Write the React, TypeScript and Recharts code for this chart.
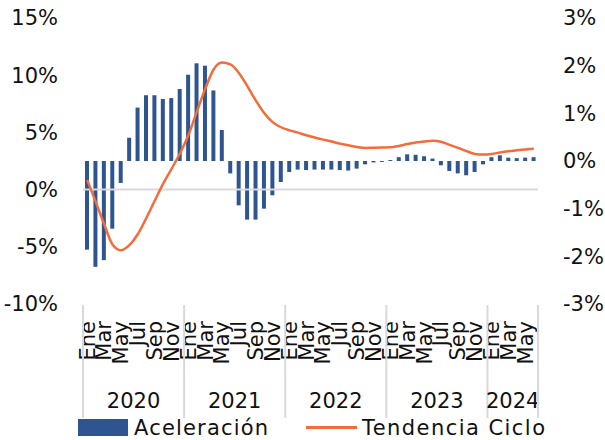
import { ComposedChart, Bar, Line, XAxis, YAxis, ReferenceLine } from 'recharts';

const YEARS = ['2020', '2021', '2022', '2023', '2024'];
const MONTHS = ['Ene', 'Feb', 'Mar', 'Abr', 'May', 'Jun', 'Jul', 'Ago', 'Sep', 'Oct', 'Nov', 'Dic'];
const MONTHS_PER_YEAR = [12, 12, 12, 12, 6];

// Aceleración (right axis, %)
const ACELERACION = [
  -1.86, -2.22, -2.08, -1.42, -0.46, 0.49, 1.12, 1.38, 1.38, 1.3, 1.32, 1.51,
  1.81, 2.05, 2.0, 1.48, 0.65, -0.26, -0.93, -1.23, -1.23, -1.0, -0.72, -0.44,
  -0.23, -0.18, -0.19, -0.18, -0.18, -0.18, -0.19, -0.2, -0.16, -0.07, -0.03, -0.02,
  0.02, 0.08, 0.14, 0.13, 0.1, 0.05, -0.09, -0.21, -0.26, -0.3, -0.23, -0.07,
  0.08, 0.12, 0.07, 0.06, 0.07, 0.08,
];

// Tendencia Ciclo (left axis, %)
const TENDENCIA = [
  0.85, -1.05, -3.0, -4.8, -5.3, -4.85, -3.9, -2.5, -1.0, 0.5, 1.8, 3.15,
  4.75, 6.8, 8.8, 10.5, 11.1, 10.95, 10.2, 9.05, 7.8, 6.7, 5.9, 5.45,
  5.18, 4.98, 4.75, 4.55, 4.37, 4.2, 4.02, 3.87, 3.73, 3.64, 3.66, 3.68,
  3.7, 3.82, 3.98, 4.11, 4.21, 4.28, 4.18, 3.91, 3.65, 3.37, 3.12, 3.06,
  3.11, 3.25, 3.36, 3.44, 3.51, 3.58,
];

const LEFT_TICKS = [-10, -5, 0, 5, 10, 15];
const RIGHT_TICKS = [-3, -2, -1, 0, 1, 2, 3];

const WIDTH = 605;
const HEIGHT = 440;
const LEFT_W = 83;
const RIGHT_W = 67;
const TOP = 18;
const PLOT_BOTTOM = 304;
const PLOT_W = WIDTH - LEFT_W - RIGHT_W;

const FONT = '"DejaVu Sans", sans-serif';
const TEXT = '#111';
const GRID = '#D9D9D9';
const BLUE = '#2E5590';
const ORANGE = '#F36C3A';

const data: { period: string; acel: number; tend: number }[] = [];
let k = 0;
YEARS.forEach((year, yi) => {
  for (let m = 0; m < MONTHS_PER_YEAR[yi]; m++) {
    data.push({ period: `${MONTHS[m]} ${year}`, acel: ACELERACION[k], tend: TENDENCIA[k] });
    k++;
  }
});

const BAND = PLOT_W / data.length;

const pct = (v: number) => `${v}%`;

// two-level category axis: every other month name, then the year under each group
function PeriodTick(props: any) {
  const { x, payload, index } = props;
  const [month, year] = String(payload.value).split(' ');
  const mi = MONTHS.indexOf(month);
  const n = MONTHS_PER_YEAR[YEARS.indexOf(year)];
  const left = x - BAND / 2;
  const labelY = 321;
  return (
    <g>
      {mi % 2 === 0 && (
        <text
          x={x}
          y={labelY}
          dy="0.35em"
          transform={`rotate(-90 ${x} ${labelY})`}
          textAnchor="end"
          fontSize={21}
          fontFamily={FONT}
          fill={TEXT}
        >
          {month}
        </text>
      )}
      {mi === 0 && (
        <>
          <line x1={left} x2={left} y1={PLOT_BOTTOM + 1} y2={418} stroke={GRID} strokeWidth={2} />
          <text
            x={left + (n * BAND) / 2}
            y={401}
            dy="0.35em"
            textAnchor="middle"
            fontSize={21}
            fontFamily={FONT}
            fill={TEXT}
          >
            {year}
          </text>
        </>
      )}
      {index === data.length - 1 && (
        <line x1={x + BAND / 2} x2={x + BAND / 2} y1={PLOT_BOTTOM + 1} y2={418} stroke={GRID} strokeWidth={2} />
      )}
    </g>
  );
}

function SeriesLegend() {
  const textProps = { y: 427, dy: '0.36em', fontSize: 21, fontFamily: FONT, fill: TEXT };
  return (
    <svg width={WIDTH} height={HEIGHT} style={{ position: 'absolute', left: 0, top: 0, pointerEvents: 'none' }}>
      <rect x={78} y={419} width={50} height={17} fill={BLUE} />
      <text {...textProps} x={134} textLength={134} lengthAdjust="spacing">
        Aceleración
      </text>
      <line x1={306} x2={357} y1={427.5} y2={427.5} stroke={ORANGE} strokeWidth={3} />
      <text {...textProps} x={362} textLength={183} lengthAdjust="spacing">
        Tendencia Ciclo
      </text>
    </svg>
  );
}

export default function App() {
  const tickStyle = { fontSize: 21, fontFamily: FONT, fill: TEXT };
  return (
    <div style={{ position: 'absolute', left: 0, top: 0, width: WIDTH, height: HEIGHT, background: '#fff' }}>
      <ComposedChart
        width={WIDTH}
        height={HEIGHT}
        data={data}
        margin={{ top: TOP, right: 0, bottom: 0, left: 0 }}
      >
        <XAxis
          dataKey="period"
          height={HEIGHT - PLOT_BOTTOM}
          interval={0}
          axisLine={false}
          tickLine={false}
          tick={<PeriodTick />}
        />
        <YAxis
          yAxisId="left"
          orientation="left"
          width={LEFT_W}
          domain={[-10, 15]}
          ticks={LEFT_TICKS}
          tickFormatter={pct}
          axisLine={false}
          tickLine={false}
          tickSize={0}
          tickMargin={25}
          tick={tickStyle}
        />
        <YAxis
          yAxisId="right"
          orientation="right"
          width={RIGHT_W}
          domain={[-3, 3]}
          ticks={RIGHT_TICKS}
          tickFormatter={pct}
          axisLine={false}
          tickLine={false}
          tickSize={0}
          tickMargin={25}
          tick={tickStyle}
        />
        <ReferenceLine yAxisId="left" y={0} stroke={GRID} strokeWidth={2} />
        <Bar yAxisId="right" dataKey="acel" fill={BLUE} barSize={4} isAnimationActive={false} />
        <Line
          yAxisId="left"
          dataKey="tend"
          type="monotone"
          stroke={ORANGE}
          strokeWidth={2.5}
          dot={false}
          isAnimationActive={false}
        />
      </ComposedChart>
      <SeriesLegend />
    </div>
  );
}
